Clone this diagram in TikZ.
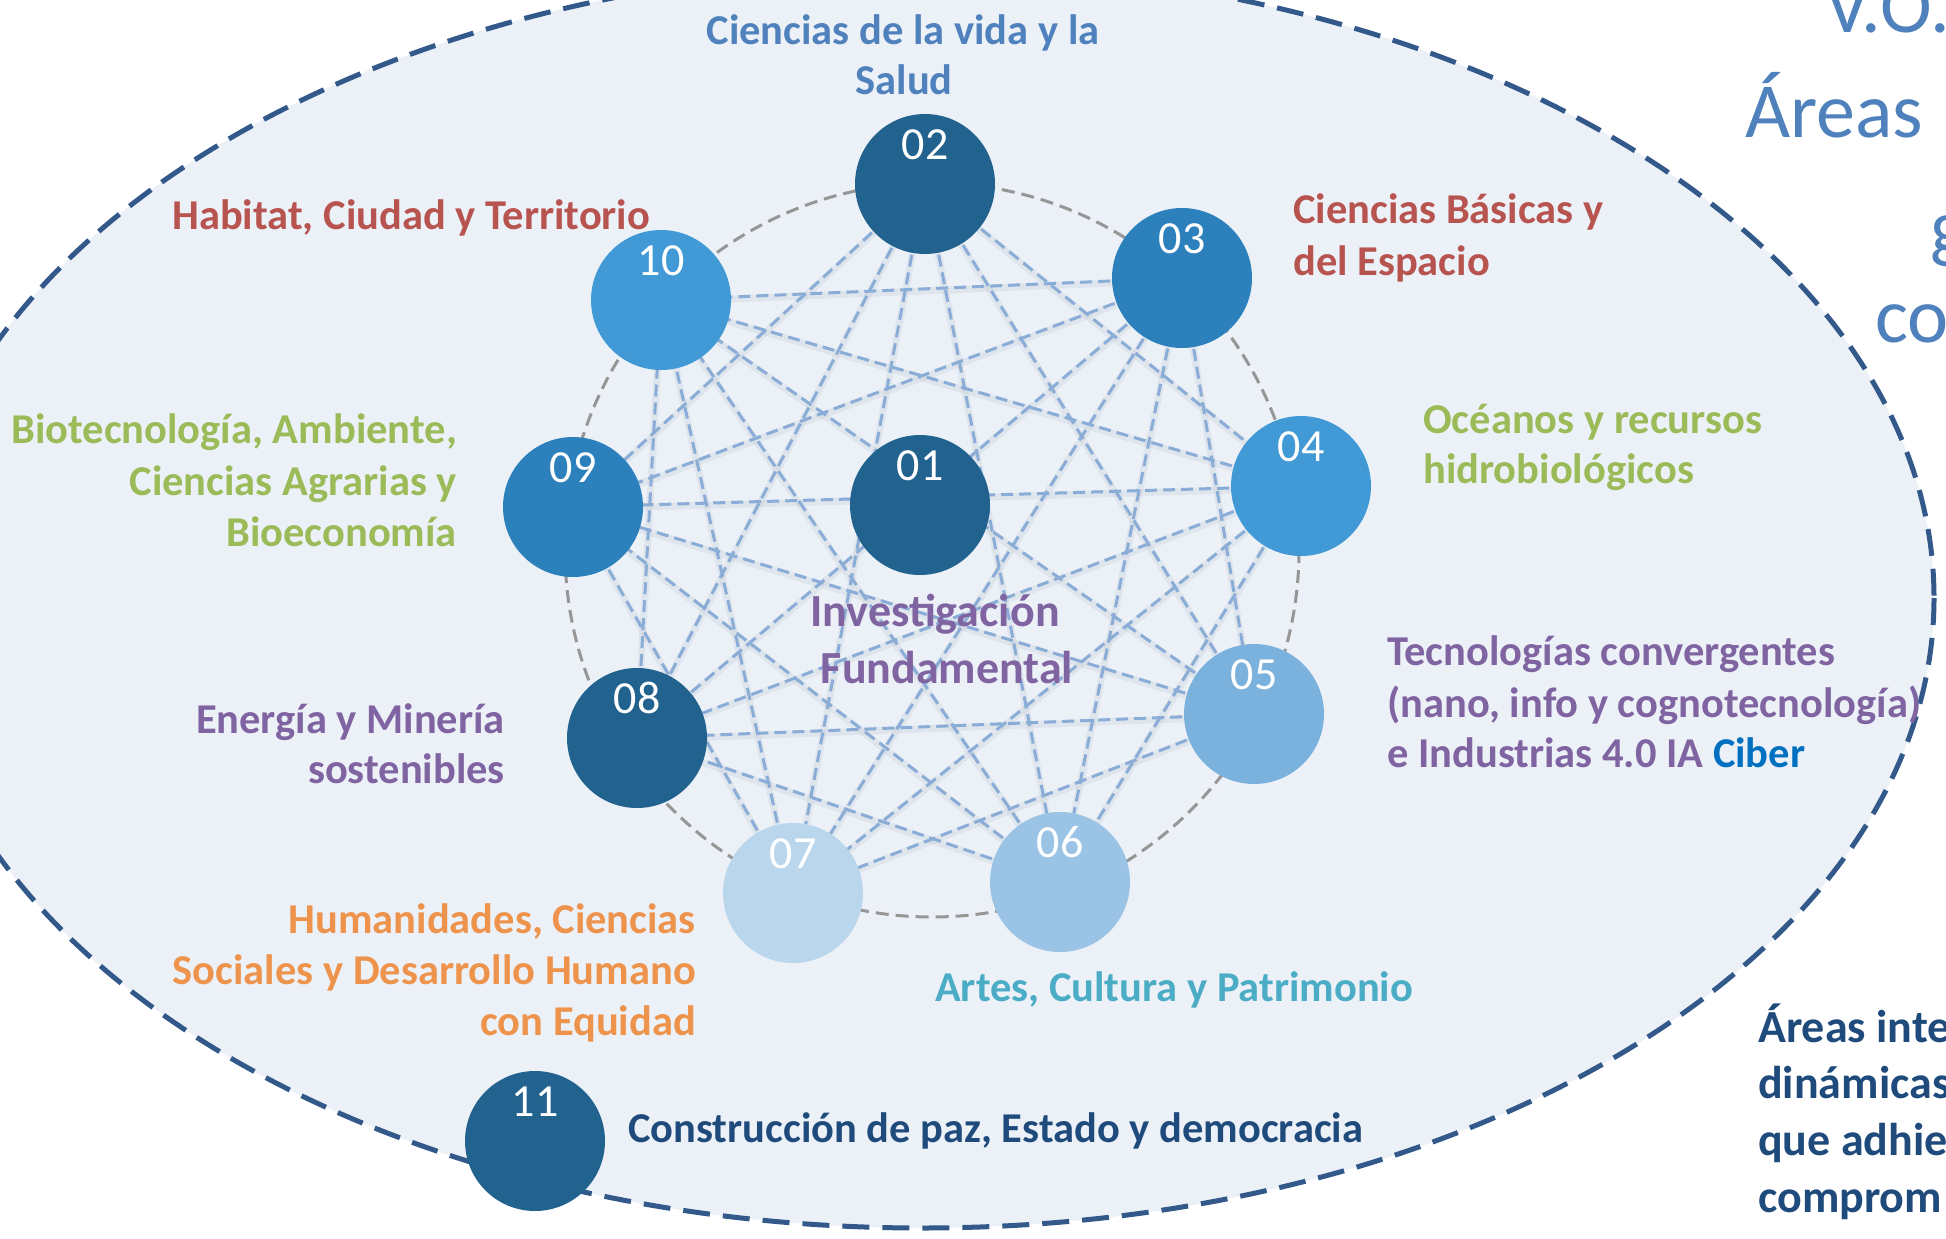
\documentclass[tikz,border=0pt]{standalone}
\usepackage{fontspec}
\setmainfont{Carlito}
\pgfdeclarelayer{bg}
\pgfsetlayers{bg,main}
\definecolor{ellfill}{HTML}{ECF1F8}
\definecolor{elldraw}{HTML}{32598A}
\definecolor{ringc}{HTML}{969696}
\definecolor{connc}{HTML}{8AADD7}
\definecolor{shadc}{HTML}{C9CFD8}
\definecolor{cdark}{HTML}{22628E}
\definecolor{cmid}{HTML}{2C80BC}
\definecolor{cbright}{HTML}{4199D6}
\definecolor{clight}{HTML}{7AB2DD}
\definecolor{cpale}{HTML}{9AC3E6}
\definecolor{cpaler}{HTML}{BAD6EC}
\definecolor{tred}{HTML}{B85450}
\definecolor{tblue}{HTML}{4F81BD}
\definecolor{tgreen}{HTML}{9BBB59}
\definecolor{tpurple}{HTML}{8064A2}
\definecolor{torange}{HTML}{EE934C}
\definecolor{tteal}{HTML}{4BACC6}
\definecolor{tnavy}{HTML}{1F4A7C}
\definecolor{tciber}{HTML}{0070C0}
\begin{document}
\begin{tikzpicture}[x=1pt,y=-1pt,
  area/.style={circle,minimum size=140pt,inner sep=0pt,draw=none},
  num/.style={text=white,inner sep=0pt,font=\fontsize{46}{52}\selectfont},
  lab/.style={inner sep=0pt,font=\fontsize{42.5}{51}\selectfont\bfseries},
  conn/.style={draw=connc,line width=3pt,dash pattern=on 12pt off 6pt},
  connshadow/.style={draw=shadc,line width=7pt,opacity=0.35},
  ringline/.style={draw=ringc,line width=3pt,dash pattern=on 13pt off 7pt},
  bigell/.style={fill=ellfill,draw=elldraw,line width=5pt,dash pattern=on 27pt off 13pt},
  titletext/.style={inner sep=0pt,text=tblue,font=\fontsize{78}{90}\selectfont},
  sidetext/.style={inner sep=0pt,text=tnavy,font=\fontsize{46}{57}\selectfont\bfseries}]
\useasboundingbox (0,0) rectangle (1946,1239);
\begin{pgfonlayer}{bg}
\fill[white] (0,0) rectangle (1946,1239);
\path[bigell] (922,598) ellipse [x radius=1012, y radius=630];
\path[ringline] (932,550) circle [radius=367];
\end{pgfonlayer}

% area nodes
\node[area,fill=cdark]   (n01) at (920,505) {};
\node[area,fill=cdark]   (n02) at (925,184) {};
\node[area,fill=cmid]    (n03) at (1182,278) {};
\node[area,fill=cbright] (n04) at (1301,486) {};
\node[area,fill=clight]  (n05) at (1254,714) {};
\node[area,fill=cpale]   (n06) at (1060,882) {};
\node[area,fill=cpaler]  (n07) at (793,893) {};
\node[area,fill=cdark]   (n08) at (637,738) {};
\node[area,fill=cmid]    (n09) at (573,507) {};
\node[area,fill=cbright] (n10) at (661,300) {};
\node[area,fill=cdark]   (n11) at (535,1141) {};

\foreach \n in {01,02,03,04,05,06,07,08,09,10,11}
  \node[num,anchor=base] (t\n) at ([yshift=25pt]n\n.center) {\n};

\begin{pgfonlayer}{bg}
\foreach \a/\b in {02/04,02/05,02/06,02/07,02/08,02/09,
                   03/05,03/06,03/07,03/08,03/09,03/10,
                   04/06,04/07,04/08,04/09,04/10,
                   05/07,05/08,05/09,05/10,
                   06/08,06/09,06/10,
                   07/09,07/10,
                   08/10}
  \draw[connshadow] ([yshift=-2pt]n\a.center) -- ([yshift=-2pt]n\b.center);
\foreach \a/\b in {02/04,02/05,02/06,02/07,02/08,02/09,
                   03/05,03/06,03/07,03/08,03/09,03/10,
                   04/06,04/07,04/08,04/09,04/10,
                   05/07,05/08,05/09,05/10,
                   06/08,06/09,06/10,
                   07/09,07/10,
                   08/10}
  \draw[conn] (n\a.center) -- (n\b.center);
\end{pgfonlayer}

% labels
\node[lab,text=tblue,anchor=base] (l02a) at (903,45) {Ciencias de la vida y la};
\node[lab,text=tblue,anchor=base] (l02b) at (904,95) {Salud};
\node[lab,text=tred,anchor=base west] (l10) at (172,229) {Habitat, Ciudad y Territorio};
\node[lab,text=tred,anchor=base west] (l03a) at (1293,223) {Ciencias Básicas y};
\node[lab,text=tred,anchor=base west] (l03b) at (1293,275) {del Espacio};
\node[lab,text=tgreen,anchor=base west] (l04a) at (1423,433) {Océanos y recursos};
\node[lab,text=tgreen,anchor=base west] (l04b) at (1423,483) {hidrobiológicos};
\node[lab,text=tgreen,anchor=base east] (l09a) at (457,443) {Biotecnología, Ambiente,};
\node[lab,text=tgreen,anchor=base east] (l09b) at (457,495) {Ciencias Agrarias y};
\node[lab,text=tgreen,anchor=base east] (l09c) at (457,546) {Bioeconomía};
\node[lab,text=tpurple,anchor=base west] (l05a) at (1387,665) {Tecnologías convergentes};
\node[lab,text=tpurple,anchor=base west] (l05b) at (1387,717) {(nano, info y cognotecnología)};
\node[lab,text=tpurple,anchor=base west] (l05c) at (1387,767) {e Industrias 4.0 IA \textcolor{tciber}{Ciber}};
\node[lab,text=tpurple,anchor=base east] (l08a) at (505,733) {Energía y Minería};
\node[lab,text=tpurple,anchor=base east] (l08b) at (505,783) {sostenibles};
\node[lab,text=torange,anchor=base east] (l07a) at (696,933) {Humanidades, Ciencias};
\node[lab,text=torange,anchor=base east] (l07b) at (696,984) {Sociales y Desarrollo Humano};
\node[lab,text=torange,anchor=base east] (l07c) at (696,1035) {con Equidad};
\node[lab,text=tteal,anchor=base west] (l06) at (935,1001) {Artes, Cultura y Patrimonio};
\node[lab,text=tnavy,anchor=base west] (l11) at (628,1142) {Construcción de paz, Estado y democracia};
\node[lab,text=tpurple,anchor=base,font=\fontsize{46}{57}\selectfont\bfseries] (l01a) at (935,626) {Investigación};
\node[lab,text=tpurple,anchor=base,font=\fontsize{46}{57}\selectfont\bfseries] (l01b) at (947,683) {Fundamental};

% title fragments (cut by the page edge)
\node[titletext,anchor=base west] (ti1) at (1825,33) {V.O.};
\node[titletext,anchor=base west] (ti2) at (1745,137) {Áreas};
\node[titletext,anchor=base west] (ti3) at (1930,253) {g};
\node[titletext,anchor=base west] (ti4) at (1875,342) {co};

% side text fragments
\node[sidetext,anchor=base west] (si1) at (1758,1042) {Áreas inte};
\node[sidetext,anchor=base west] (si2) at (1758,1098) {dinámicas};
\node[sidetext,anchor=base west] (si3) at (1758,1155) {que adhie};
\node[sidetext,anchor=base west] (si4) at (1758,1212) {comprom};
\end{tikzpicture}
\end{document}
